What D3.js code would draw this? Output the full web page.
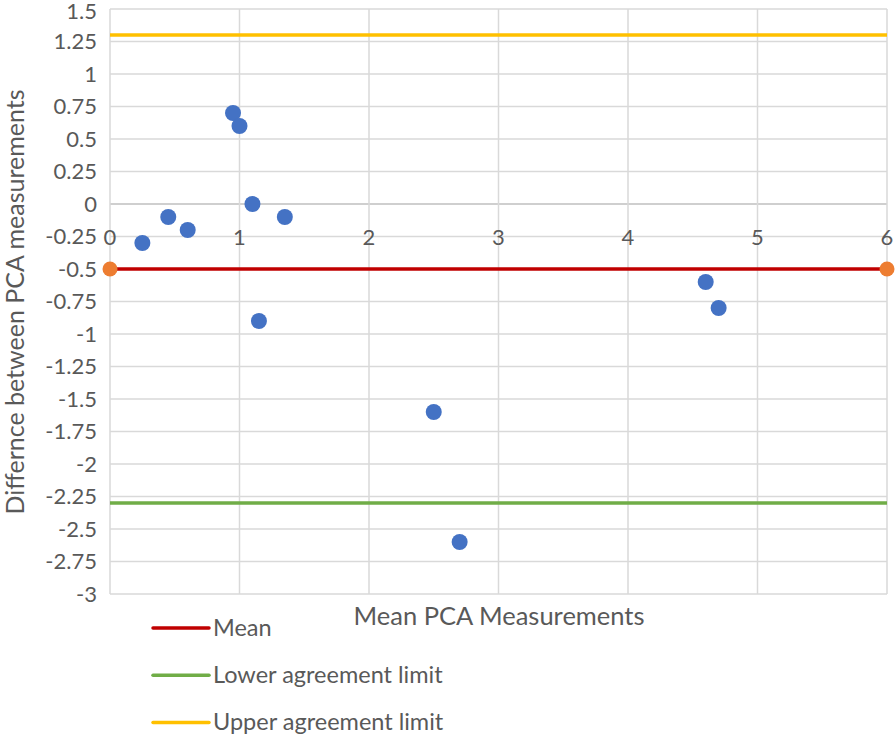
<!DOCTYPE html>
<html><head><meta charset="utf-8">
<script src="https://cdn.jsdelivr.net/npm/d3@7"></script>
<style>body{margin:0;background:#fff}svg{display:block}text{font-family:Lato,"Open Sans",sans-serif;fill:#595959}</style>
</head><body><svg id="c" width="895" height="735"></svg>
<script>
const xMeans = [0.25,0.45,0.6,0.95,1.0,1.1,1.35,1.15,2.5,2.7,4.6,4.7];
const yDiffs = [-0.3,-0.1,-0.2,0.7,0.6,0,-0.1,-0.9,-1.6,-2.6,-0.6,-0.8];
const meanDiff = -0.5, lowerLimit = -2.3, upperLimit = 1.3;
const xTicks = [0,1,2,3,4,5,6];
const yTicks = d3.range(-3, 1.5001, 0.25);
const legendNames = ["Mean","Lower agreement limit","Upper agreement limit"];
const legendColors = ["#C00000","#70AD47","#FFC000"];

const svg = d3.select("#c");
const x = d3.scaleLinear().domain([0,6]).range([110,887]);
const y = d3.scaleLinear().domain([-3,1.5]).range([594,9]);

// gridlines
svg.append("g").selectAll("line").data(yTicks).join("line")
  .attr("x1",x(0)).attr("x2",x(6)).attr("y1",d=>y(d)).attr("y2",d=>y(d))
  .attr("stroke",d=>Math.abs(d)<1e-9?"#BFBFBF":"#D9D9D9").attr("stroke-width",1.5);
svg.append("g").selectAll("line").data(xTicks).join("line")
  .attr("x1",d=>x(d)).attr("x2",d=>x(d)).attr("y1",y(1.5)).attr("y2",y(-3))
  .attr("stroke","#D9D9D9").attr("stroke-width",1.5);

// y tick labels
const fmt = d => (+d.toFixed(2)).toString();
svg.append("g").selectAll("text").data(yTicks).join("text")
  .attr("x",97).attr("y",d=>y(d)+ (d===1.5?2.5:0)).attr("dy","0.36em").attr("text-anchor","end")
  .attr("font-size",22).text(fmt);
// x tick labels
svg.append("g").selectAll("text").data(xTicks).join("text")
  .attr("x",d=>x(d)).attr("y",y(0)+41).attr("text-anchor","middle")
  .attr("font-size",22).text(d=>d);

// reference lines
const refs = [meanDiff, lowerLimit, upperLimit];
svg.append("g").selectAll("line").data(refs).join("line")
  .attr("x1",x(0)).attr("x2",x(6)).attr("y1",d=>y(d)).attr("y2",d=>y(d))
  .attr("stroke",(d,i)=>legendColors[i]).attr("stroke-width",3.5);
svg.append("g").selectAll("circle").data([0,6]).join("circle")
  .attr("cx",d=>x(d)).attr("cy",y(meanDiff)).attr("r",7.5).attr("fill","#ED7D31");

// points
svg.append("g").selectAll("circle").data(xMeans).join("circle")
  .attr("cx",d=>x(d)).attr("cy",(d,i)=>y(yDiffs[i])).attr("r",8).attr("fill","#4472C4");

// axis titles
svg.append("text").attr("x",499).attr("y",625).attr("text-anchor","middle")
  .attr("font-size",25.5).text("Mean PCA Measurements");
svg.append("text").attr("transform","translate(24,302) rotate(-90)").attr("text-anchor","middle")
  .attr("font-size",25).text("Differnce between PCA measurements");

// legend
const lg = svg.append("g").selectAll("g").data(legendNames).join("g")
  .attr("transform",(d,i)=>`translate(152,${628+i*47.3})`);
lg.append("line").attr("x1",1).attr("x2",57).attr("stroke",(d,i)=>legendColors[i]).attr("stroke-width",3.5).attr("stroke-linecap","round");
lg.append("text").attr("x",61).attr("y",7.5).attr("font-size",23.5).text(d=>d);
</script></body></html>
